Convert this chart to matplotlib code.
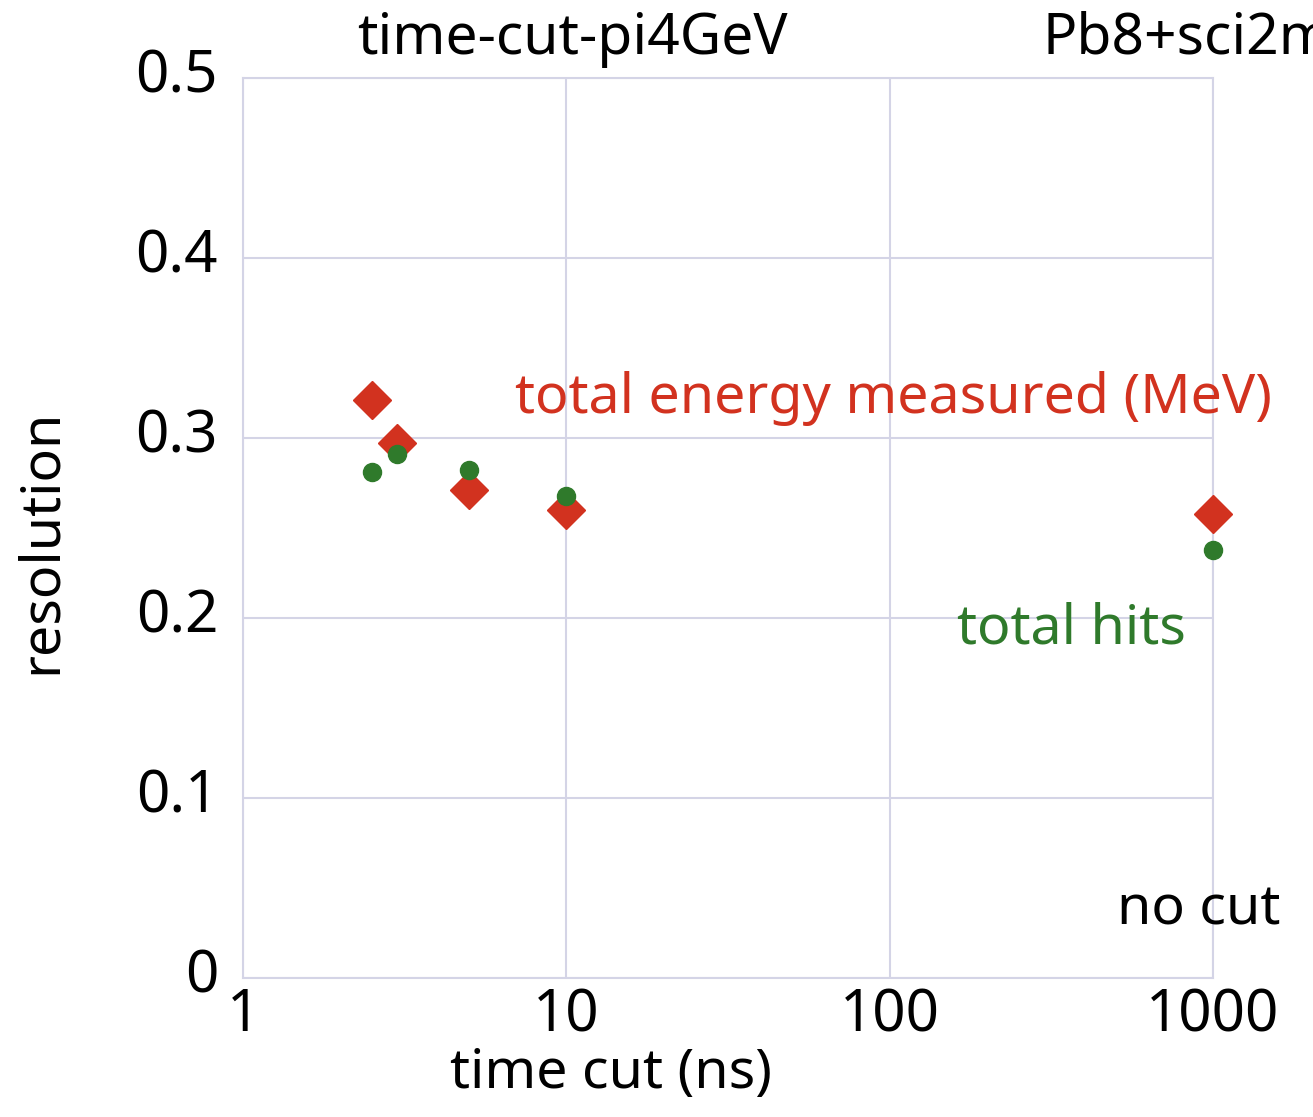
import matplotlib.pyplot as plt
import matplotlib.transforms as mtransforms

# time cut (ns); 1000 stands for "no cut"
cut = [2.5, 3, 5, 10, 1000]
energy_res = [0.321, 0.297, 0.271, 0.260, 0.258]
hits_res = [0.281, 0.291, 0.282, 0.268, 0.238]

xticks = [1, 10, 100, 1000]
yticks = [0, 0.1, 0.2, 0.3, 0.4, 0.5]

plt.rcParams['font.family'] = ['Noto Sans', 'DejaVu Sans']

fig = plt.figure(figsize=(13.13, 11.17), dpi=100)
ax = fig.add_axes([0.1851, 0.1244, 0.7387, 0.8058])

gridc = '#d4d4e6'
red = '#d2321f'
green = '#2f7a2b'

ax.plot(cut, energy_res, 'D', color=red, ms=19, zorder=3, clip_on=False)
ax.plot(cut, hits_res, 'o', color=green, ms=13, zorder=4, clip_on=False)

ax.set_xscale('log')
ax.set_xlim(1, 1000)
ax.set_ylim(0, 0.5)
ax.set_xticks(xticks)
ax.set_xticklabels([str(t) for t in xticks])
ax.set_yticks(yticks)
ax.set_yticklabels(['0', '0.1', '0.2', '0.3', '0.4', '0.5'])
ax.minorticks_off()
ax.tick_params(length=0, labelsize=42)
ax.tick_params(axis='y', pad=18)
ax.tick_params(axis='x', pad=6)
# y labels sit a little above their grid lines
up = mtransforms.ScaledTranslation(0, 8 / 100, fig.dpi_scale_trans)
for t in ax.yaxis.get_major_ticks():
    t.label1.set_transform(t.label1.get_transform() + up)
ax.grid(True, color=gridc, lw=1.5)
ax.set_axisbelow(True)
for s in ax.spines.values():
    s.set_color(gridc)
    s.set_linewidth(1.5)

ax.set_xlabel('time cut (ns)', fontsize=40)
ax.xaxis.set_label_coords(0.379, -0.076)
ax.set_ylabel('resolution', fontsize=40)
ax.yaxis.set_label_coords(-0.18, 0.485)

fig.text(0.436, 0.965, 'time-cut-pi4GeV', fontsize=41, ha='center', va='center')
fig.text(0.794, 0.965, 'Pb8+sci2m', fontsize=41, ha='left', va='center')
ax.text(6.94, 0.322, 'total energy measured (MeV)', fontsize=40, color=red, va='center')
ax.text(161, 0.194, 'total hits', fontsize=40, color=green, va='center')
ax.text(505, 0.038, 'no cut', fontsize=40, va='center')

fig.savefig('out.png', dpi=100)
